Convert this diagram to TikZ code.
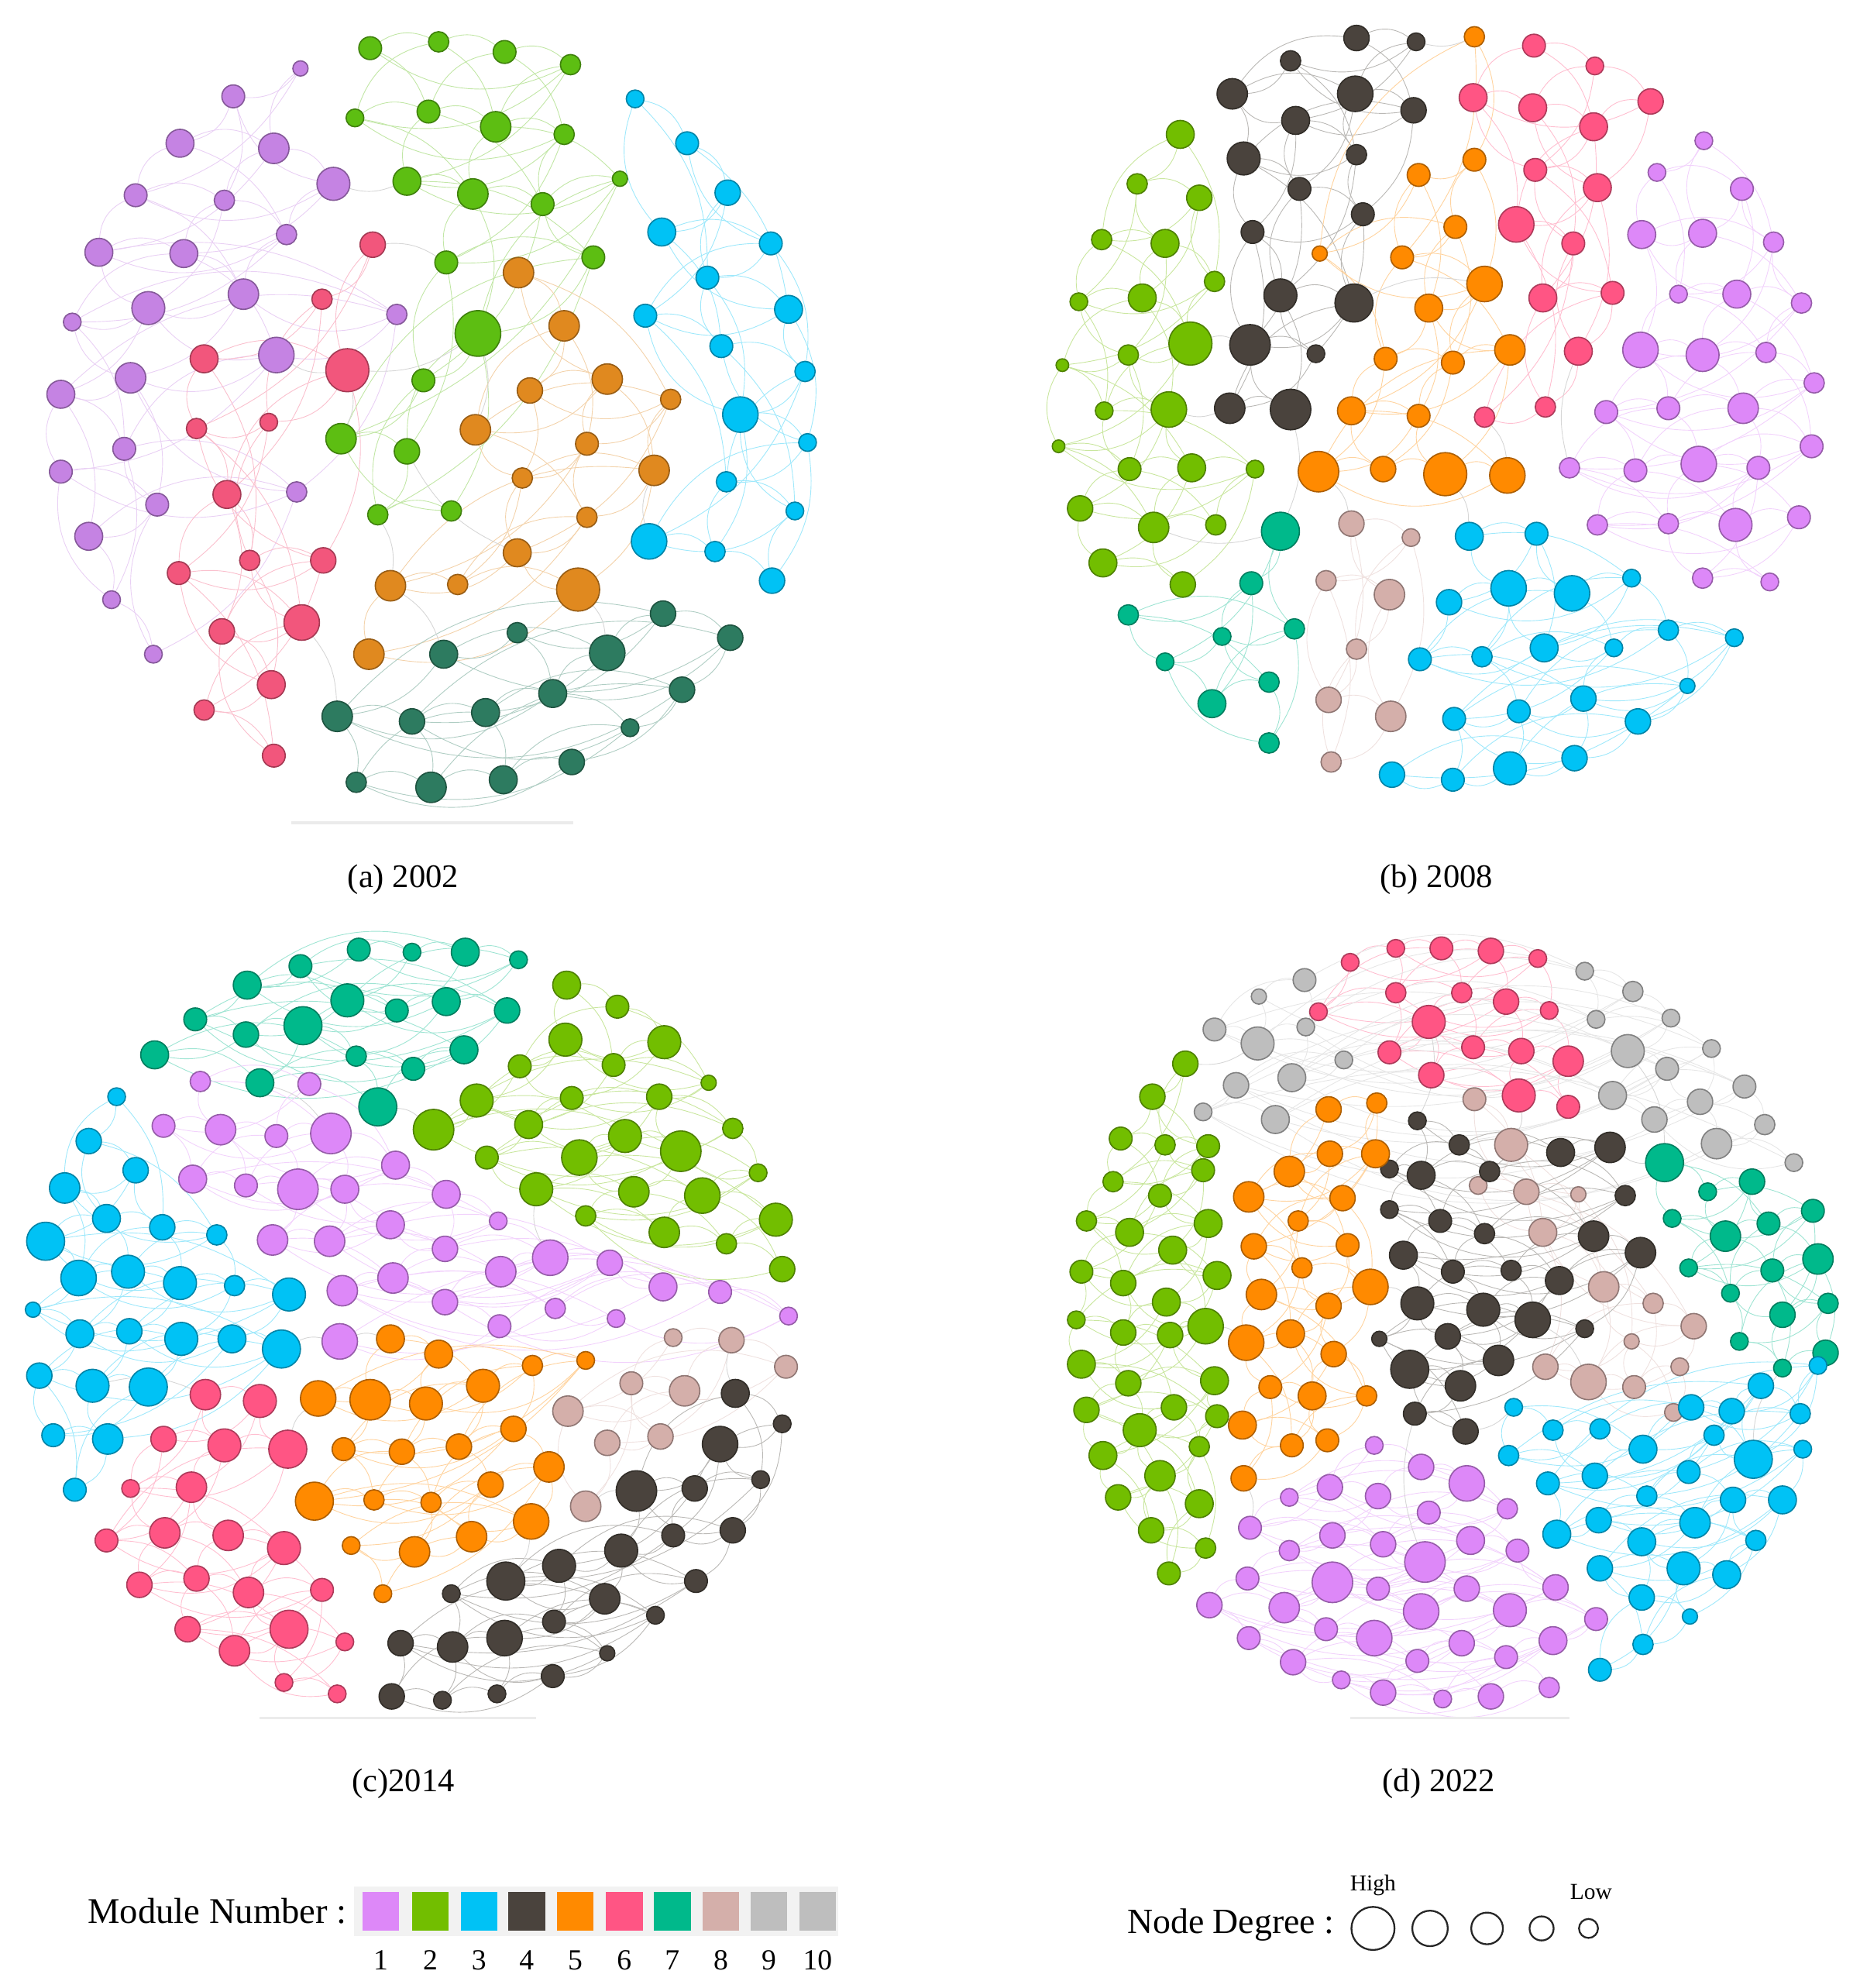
\documentclass[tikz,border=0pt]{standalone}
\usepackage{fontspec}
\setmainfont{Liberation Serif}
\pgfdeclarelayer{background}
\pgfsetlayers{background,main}
\definecolor{cP}{HTML}{DD88F8}
\definecolor{cG}{HTML}{72BE00}
\definecolor{cC}{HTML}{00C2F5}
\definecolor{cK}{HTML}{4A433D}
\definecolor{cO}{HTML}{FF8A00}
\definecolor{cR}{HTML}{FF5584}
\definecolor{cT}{HTML}{00B98B}
\definecolor{cB}{HTML}{D4AFAA}
\definecolor{cY}{HTML}{BEBEBE}
\definecolor{aP}{HTML}{C583E3}
\definecolor{aG}{HTML}{5DBE12}
\definecolor{aO}{HTML}{E0891F}
\definecolor{aR}{HTML}{F2567C}
\definecolor{aD}{HTML}{2D7B60}
\tikzset{
  nd/.style={circle,inner sep=0pt,fill=#1,draw=#1!68!black,line width=1pt},
  ed/.style={draw=#1!38,line width=0.55pt},
  xed/.style={draw=black!16,line width=0.55pt},
  captxt/.style={font=\fontsize{26}{30}\selectfont},
  legsq/.style={fill=#1,minimum width=29pt,minimum height=31pt,inner sep=0pt},
  legnum/.style={font=\fontsize{23}{27}\selectfont},
  degc/.style={circle,draw=black!85,line width=1.4pt,inner sep=0pt},
  baseln/.style={draw=black!8,line width=2pt}
}
\newcommand\clus[3]{%
  \foreach \x/\y/\r [count=\c] in {#3}{%
    \node[nd=#2,minimum size={2*\r*1pt}] (#1-\c) at (\x,\y) {};
    \xdef\clN{\c}}%
  \begin{pgfonlayer}{background}
  \foreach \i in {1,...,\clN}{%
    \pgfmathtruncatemacro\ja{\i+1}%
    \pgfmathtruncatemacro\jb{\i+3}%
    \pgfmathtruncatemacro\jc{\i+5}%
    \ifnum\ja>\clN\relax\else\draw[ed=#2] (#1-\i) to[bend left=28] (#1-\ja);\fi
    \ifnum\jb>\clN\relax\else\draw[ed=#2] (#1-\i) to[bend right=30] (#1-\jb);\fi
    \ifnum\jc>\clN\relax\else\draw[ed=#2] (#1-\i) to[bend left=22] (#1-\jc);\fi
  }
  \end{pgfonlayer}}
\newcommand\xedges[1]{%
  \begin{pgfonlayer}{background}
  \foreach \u/\v in {#1}{\draw[xed] (\u) to[bend left=18] (\v);}
  \end{pgfonlayer}}
\begin{document}
\begin{tikzpicture}[x=1pt,y=-1pt]
\useasboundingbox (0,0) rectangle (1467,1568);
% ---------------- panel (a) ----------------
\clus{aP}{aP}{237/54/6, 184/76/9, 142/113/11, 216/117/12, 263/145/13, 107/154/9, 177/158/8, 226/185/8, 78/199/11, 145/200/11, 192/232/12, 117/243/13, 57/254/7, 313/248/8, 218/280/14, 103/298/12, 48/311/11, 98/354/9, 234/388/8, 48/372/9, 124/398/9, 70/423/11, 88/473/7, 121/516/7}
\clus{aR}{aR}{294/193/10, 254/236/8, 161/283/11, 274/292/17, 212/333/7, 155/338/8, 179/390/11, 197/442/8, 255/442/10, 141/452/9, 238/491/14, 175/498/10, 214/540/11, 161/560/8, 216/596/9}
\clus{aG}{aG}{292/38/9, 346/33/8, 398/41/9, 450/51/8, 280/93/7, 338/88/9, 391/100/12, 445/106/8, 321/143/11, 373/153/12, 428/161/9, 489/141/6, 352/207/9, 468/203/9, 377/263/18, 334/300/9, 269/346/12, 321/356/10, 298/406/8, 356/403/8}
\clus{aO}{aO}{409/215/12, 445/257/12, 418/308/10, 479/299/12, 375/339/12, 529/315/8, 463/350/9, 412/377/8, 516/371/12, 463/408/8, 408/436/11, 308/462/12, 361/461/8, 456/465/17, 291/516/12}
\clus{aC}{cC}{501/78/7, 542/113/9, 574/152/10, 522/183/11, 608/192/9, 558/219/9, 622/244/11, 509/249/9, 569/273/9, 635/293/8, 584/327/14, 637/349/7, 573/380/8, 627/403/7, 512/427/14, 564/435/8, 609/458/10}
\clus{aD}{aD}{408/499/8, 350/516/11, 479/515/14, 523/484/10, 576/503/10, 436/547/11, 266/565/12, 325/569/10, 383/562/11, 538/544/10, 497/574/7, 281/617/8, 340/621/12, 397/615/11, 451/601/10}
\xedges{aR-4/aG-17, aR-4/aP-15, aG-15/aO-5, aO-14/aD-3, aO-12/aD-2, aC-15/aO-9, aG-9/aP-5, aR-11/aD-7, aR-1/aG-13, aO-11/aG-18, aG-15/aR-4, aG-19/aO-12}
\draw[baseln] (230,649) -- (452,649);
\node[captxt] (capa) at (318,694) {(a) 2002};
% ---------------- panel (b) ----------------
\clus{bK}{cK}{1070/30/10, 1117/33/7, 1018/48/8, 972/74/12, 1069/74/14, 1115/87/10, 1022/95/11, 1070/122/8, 981/125/13, 1025/149/9, 1075/169/9, 988/183/9, 1010/233/13, 1068/239/15, 986/272/16, 1038/279/7, 970/322/12, 1018/323/16}
\clus{bO}{cO}{1163/29/8, 1163/126/9, 1119/138/9, 1041/200/6, 1148/179/9, 1106/203/9, 1171/224/14, 1127/243/11, 1093/283/9, 1146/286/9, 1191/276/12, 1066/324/11, 1119/328/9, 1040/372/16, 1091/370/10, 1140/374/17, 1189/375/14}
\clus{bR}{cR}{1210/36/9, 1258/52/7, 1302/80/10, 1162/77/11, 1209/85/11, 1257/100/11, 1211/134/9, 1260/148/11, 1196/177/14, 1241/192/9, 1217/235/11, 1272/231/9, 1245/277/11, 1219/321/8, 1171/329/8}
\clus{bP}{cP}{1344/111/7, 1307/136/7, 1374/149/9, 1343/184/11, 1295/185/11, 1399/191/8, 1324/232/7, 1370/232/11, 1421/239/8, 1294/276/14, 1343/280/13, 1393/278/8, 1431/302/8, 1267/325/9, 1316/322/9, 1375/322/12, 1429/352/9, 1238/369/8, 1290/371/9, 1340/366/14, 1387/369/9, 1260/414/8, 1316/413/8, 1369/414/13, 1419/408/9, 1343/456/8, 1396/459/7}
\clus{bG}{cG}{931/106/11, 897/145/8, 946/156/10, 869/189/8, 919/192/11, 958/222/8, 851/238/7, 901/235/11, 939/271/17, 890/280/8, 838/288/5, 871/324/7, 922/323/14, 835/352/5, 891/370/9, 940/369/11, 990/370/7, 852/401/10, 910/416/12, 959/414/8, 870/444/11, 933/461/10}
\clus{bT}{cT}{1010/419/15, 987/460/9, 890/485/8, 1021/496/8, 964/502/7, 919/522/7, 956/555/11, 1001/538/8, 1001/586/8}
\clus{bB}{cB}{1066/413/10, 1113/424/7, 1046/458/8, 1096/469/12, 1070/512/8, 1048/552/10, 1097/565/12, 1050/601/8}
\clus{bC}{cC}{1159/423/11, 1212/421/9, 1143/475/10, 1190/464/14, 1240/468/14, 1287/456/7, 1218/511/11, 1120/520/9, 1169/518/8, 1273/511/7, 1316/497/8, 1368/503/7, 1249/551/10, 1198/561/9, 1147/567/9, 1331/541/6, 1292/569/10, 1242/598/10, 1191/606/13, 1146/615/9, 1098/611/10}
\xedges{bK-14/bO-7, bK-18/bT-1, bO-14/bB-1, bO-16/bC-1, bR-15/bO-17, bG-9/bK-15, bP-18/bR-13, bT-1/bG-19, bK-17/bG-13, bO-1/bK-2}
\node[captxt] (capb) at (1133,694) {(b) 2008};
% ---------------- panel (c) ----------------
\clus{cT}{cT}{283/749/9, 325/751/7, 367/751/11, 409/757/7, 237/762/9, 195/777/11, 274/789/13, 313/797/9, 352/790/11, 400/797/10, 154/804/9, 194/816/10, 239/809/15, 281/833/8, 326/843/9, 366/828/11, 122/832/11, 205/854/11, 298/873/15}
\clus{cG}{cG}{447/777/11, 487/794/9, 524/822/13, 446/820/13, 410/841/9, 484/840/9, 559/854/6, 451/866/9, 376/868/13, 342/891/16, 417/887/11, 520/865/10, 578/890/8, 493/896/13, 537/908/16, 384/913/9, 457/913/14, 598/925/7, 423/938/13, 500/940/12, 554/943/14, 612/962/13, 462/959/8, 524/972/12, 573/981/8, 617/1001/10}
\clus{cP}{cP}{158/853/8, 244/855/9, 129/888/9, 174/891/12, 218/896/9, 261/894/16, 312/919/11, 152/930/11, 194/935/9, 235/938/16, 272/938/11, 352/942/11, 393/963/7, 308/966/11, 215/978/12, 260/979/12, 351/985/10, 434/992/14, 481/996/10, 310/1008/12, 395/1003/12, 523/1015/11, 270/1018/12, 351/1027/10, 438/1032/8, 568/1019/9, 622/1038/7, 486/1040/7, 394/1046/9, 268/1058/14}
\clus{cC}{cC}{92/865/7, 70/900/10, 107/923/10, 51/937/12, 84/961/11, 128/968/10, 171/974/8, 36/979/15, 62/1008/14, 101/1003/13, 142/1012/13, 185/1014/8, 228/1021/13, 26/1033/6, 63/1052/11, 102/1050/10, 143/1056/13, 183/1056/11, 222/1064/15, 31/1085/10, 73/1093/13, 117/1094/15, 42/1132/9, 85/1135/12, 59/1175/9}
\clus{cR}{cR}{162/1100/12, 205/1105/13, 129/1135/10, 177/1140/13, 227/1143/15, 103/1174/7, 151/1173/12, 84/1215/9, 130/1209/12, 180/1211/12, 224/1221/13, 110/1250/10, 155/1245/10, 196/1256/12, 254/1254/9, 148/1285/10, 228/1285/15, 185/1302/12, 272/1295/7, 224/1327/7, 266/1336/7}
\clus{cO}{cO}{308/1056/11, 346/1068/11, 251/1103/14, 292/1104/16, 336/1107/13, 381/1093/13, 420/1077/8, 462/1073/7, 271/1143/9, 317/1145/10, 362/1141/10, 405/1127/10, 248/1184/15, 295/1183/8, 340/1185/8, 387/1171/10, 433/1157/12, 419/1200/14, 372/1212/12, 327/1224/12, 277/1219/7, 302/1257/7}
\clus{cB}{cB}{531/1055/7, 577/1057/10, 620/1078/9, 498/1091/9, 540/1097/12, 448/1113/12, 521/1133/10, 479/1138/10, 462/1188/12}
\clus{cK}{cK}{580/1099/11, 617/1123/7, 568/1139/14, 502/1176/16, 548/1174/10, 600/1167/7, 578/1207/10, 531/1211/9, 490/1223/13, 441/1235/13, 399/1247/15, 549/1247/9, 356/1257/7, 477/1261/12, 437/1279/9, 517/1274/7, 316/1296/10, 357/1299/12, 398/1292/14, 479/1304/6, 436/1322/9, 309/1338/10, 349/1341/7, 392/1336/7}
\xedges{cT-19/cG-10, cP-30/cO-1, cC-21/cR-1, cO-18/cK-11, cB-9/cK-4, cP-18/cG-19, cR-5/cO-3, cK-1/cB-2, cT-18/cP-6, cC-19/cP-30}
\draw[baseln] (205,1355) -- (423,1355);
\node[captxt] (capc) at (318,1407) {(c)2014};
% ---------------- panel (d) ----------------
\clus{dR}{cR}{1065/759/7, 1101/748/7, 1137/748/9, 1176/750/10, 1213/756/7, 1040/798/7, 1101/783/8, 1153/783/8, 1188/790/10, 1222/797/7, 1127/806/13, 1096/830/9, 1162/826/9, 1200/829/10, 1237/837/12, 1129/848/10, 1198/864/13, 1237/873/9}
\clus{dY}{cY}{993/786/6, 1029/773/9, 1250/766/7, 1288/782/8, 958/812/9, 992/823/13, 1030/810/7, 1259/804/7, 1318/803/7, 1284/829/13, 1060/836/7, 1019/850/11, 1350/827/7, 975/856/10, 1315/843/9, 1272/864/11, 1376/857/9, 1341/869/10, 949/877/7, 1006/883/11, 1305/883/10, 1392/887/8, 1354/902/12, 1415/917/7}
\clus{dB}{cB}{1163/867/9, 1192/903/13, 1166/935/7, 1204/940/10, 1245/942/6, 1217/972/11, 1265/1015/12, 1304/1028/8, 1336/1046/10, 1287/1058/6, 1219/1078/10, 1253/1090/14, 1289/1094/9, 1325/1078/7, 1320/1114/7}
\clus{dK}{cK}{1118/884/7, 1151/903/8, 1231/909/11, 1270/905/12, 1096/922/7, 1121/927/11, 1175/924/8, 1282/943/8, 1096/954/7, 1136/963/9, 1171/973/8, 1257/975/12, 1107/990/11, 1146/1003/9, 1192/1002/8, 1230/1010/11, 1294/988/12, 1118/1028/13, 1170/1033/13, 1209/1041/14, 1142/1054/10, 1250/1048/7, 1088/1056/6, 1182/1073/12, 1112/1080/15, 1152/1093/12, 1116/1115/9, 1156/1129/10}
\clus{dT}{cT}{1313/917/15, 1347/940/7, 1382/932/10, 1319/961/7, 1361/975/12, 1395/965/9, 1430/955/9, 1332/1000/7, 1365/1020/7, 1398/1002/9, 1434/993/12, 1406/1037/10, 1442/1028/8, 1372/1058/7, 1406/1079/7, 1440/1067/10}
\clus{dO}{cO}{1048/875/10, 1086/870/8, 1049/910/10, 1017/924/12, 1085/910/11, 985/944/12, 1059/945/10, 1024/963/8, 1063/982/9, 989/983/10, 1027/1000/8, 1081/1015/14, 995/1021/12, 1048/1030/10, 1018/1052/11, 983/1059/14, 1052/1068/10, 1078/1101/8, 1002/1094/9, 1035/1101/11, 1019/1140/9, 980/1124/11, 1047/1136/9, 981/1166/10}
\clus{dG}{cG}{935/839/10, 909/865/10, 884/898/9, 919/903/8, 953/904/9, 878/932/8, 949/923/9, 915/943/9, 857/963/8, 891/972/11, 953/965/11, 925/986/11, 853/1003/9, 886/1012/10, 960/1006/11, 920/1027/11, 951/1046/14, 849/1041/7, 886/1051/10, 923/1053/10, 853/1076/11, 890/1091/10, 958/1089/11, 926/1110/10, 857/1112/10, 960/1117/9, 899/1128/13, 870/1148/11, 946/1141/8, 915/1164/12, 882/1181/10, 946/1186/11, 908/1207/10, 951/1221/8, 922/1241/9}
\clus{dP}{cP}{1084/1140/7, 1121/1157/10, 1157/1170/14, 1049/1173/10, 1087/1180/10, 1017/1181/7, 1189/1190/8, 1127/1193/9, 986/1205/9, 1051/1211/10, 1091/1218/10, 1160/1215/11, 1197/1223/9, 1124/1232/16, 1017/1223/8, 1227/1252/10, 1051/1248/16, 984/1245/9, 1087/1253/9, 1157/1253/10, 954/1266/10, 1013/1268/12, 1121/1271/14, 1191/1270/13, 1259/1277/9, 985/1292/9, 1046/1285/9, 1084/1292/14, 1153/1296/10, 1225/1294/11, 1020/1311/10, 1118/1310/9, 1188/1307/9, 1058/1325/7, 1091/1335/10, 1138/1340/7, 1176/1338/10, 1222/1331/8}
\clus{dC}{cC}{1194/1110/7, 1225/1128/8, 1262/1127/8, 1190/1148/8, 1258/1164/10, 1296/1143/11, 1334/1110/10, 1366/1113/10, 1389/1093/10, 1420/1115/8, 1434/1077/7, 1383/1151/15, 1352/1132/8, 1221/1170/9, 1299/1180/8, 1332/1161/9, 1422/1143/7, 1261/1199/10, 1228/1210/11, 1337/1201/12, 1367/1183/10, 1406/1183/11, 1295/1216/11, 1385/1215/8, 1262/1237/10, 1328/1237/13, 1362/1242/11, 1295/1260/10, 1333/1275/6, 1296/1297/8, 1262/1317/9}
\xedges{dK-20/dB-12, dO-12/dK-18, dR-11/dK-1, dY-6/dG-1, dT-1/dK-4, dP-14/dK-27, dC-1/dK-28, dO-24/dP-9, dR-17/dB-2, dY-10/dT-1, dG-17/dO-16, dC-12/dT-15}
\draw[baseln] (1065,1355) -- (1238,1355);
\node[captxt] (capd) at (1135,1407) {(d) 2022};
% ---------------- legends ----------------
\node[anchor=east,font=\fontsize{28.5}{33}\selectfont] (modlab) at (277,1507) {Module Number :};
\fill[black!5] (279,1488) rectangle (661,1527);
\foreach \xx/\cc/\nn in {300.4/cP/1, 339.5/cG/2, 377.8/cC/3, 415.4/cK/4, 453.7/cO/5, 492.4/cR/6, 530.3/cT/7, 568.6/cB/8, 606.5/cY/9, 644.9/cY/10}{
  \node[legsq=\cc] (m\nn) at (\xx,1507.5) {};
  \node[legnum] (n\nn) at (\xx,1546) {\nn};
}
\node[anchor=east,font=\fontsize{28}{33}\selectfont] (deglab) at (1056,1518) {Node Degree :};
\node[degc,minimum size=34pt] (g1) at (1083,1521) {};
\node[degc,minimum size=28pt] (g2) at (1128,1521) {};
\node[degc,minimum size=25pt] (g3) at (1173,1521) {};
\node[degc,minimum size=19pt] (g4) at (1216,1521) {};
\node[degc,minimum size=15pt] (g5) at (1253,1521) {};
\node[font=\fontsize{18}{21}\selectfont] (hi) at (1083,1487) {High};
\node[font=\fontsize{18}{21}\selectfont] (lo) at (1255,1492) {Low};
\end{tikzpicture}
\end{document}
